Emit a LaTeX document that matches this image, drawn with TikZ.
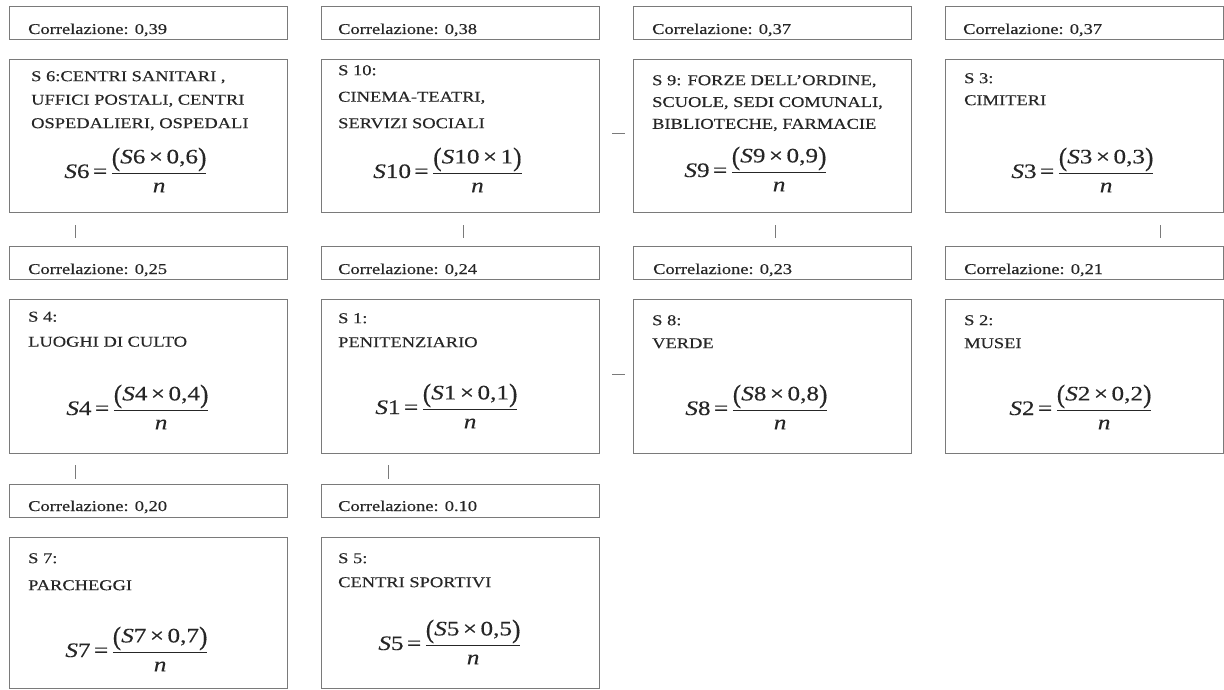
\documentclass[tikz,border=0pt]{standalone}
\usepackage{fontspec}
\usepackage{graphicx}
\setmainfont{Liberation Serif}[FakeStretch=1.23,FakeBold=0.35]
\definecolor{boxgray}{HTML}{7A7A7A}
\definecolor{txtgray}{HTML}{262626}
\newcommand\bigpar[1]{\raisebox{-0.12em}{\scalebox{1}[1.28]{#1}}}
\newcommand\frml[2]{\textit{S}#1\,=\,$\displaystyle\frac{\mbox{\bigpar{(}\textit{S}#1\,×\,#2\bigpar{)}}}{\mbox{\textit{n}}}$}
\begin{document}
\begin{tikzpicture}[x=1pt,y=-1pt,
 box/.style={draw=boxgray, line width=1.1pt, inner sep=0pt, anchor=north west, minimum width=278pt},
 corrbox/.style={box, minimum height=33pt},
 mainbox/.style={box, minimum height=153pt},
 corrtxt/.style={anchor=base west, inner sep=0pt, font=\fontsize{15}{16}\selectfont, text=txtgray},
 desc/.style={anchor=north west, inner sep=0pt, align=left, font=\fontsize{15}{23.5}\selectfont, text=txtgray},
 frm/.style={anchor=base, inner sep=0pt, font=\fontsize{20.5}{24}\selectfont, text=txtgray},
 tick/.style={draw=boxgray, line width=0.9pt}]
\useasboundingbox (0,0) rectangle (1224,690);
% ---------- row 1 ----------
\node[corrbox] (c6) at (9,6) {};
\node[corrbox] (c10) at (321,6) {};
\node[corrbox] (c9) at (633,6) {};
\node[corrbox] (c3) at (945,6) {};
\node[corrtxt] (k6) at (28,34) {Correlazione: 0,39};
\node[corrtxt] (k10) at (338,34) {Correlazione: 0,38};
\node[corrtxt] (k9) at (652,34) {Correlazione: 0,37};
\node[corrtxt] (k3) at (963,34) {Correlazione: 0,37};
\node[mainbox] (s6) at (9,59) {};
\node[mainbox] (s10) at (321,59) {};
\node[mainbox] (s9) at (633,59) {};
\node[mainbox] (s3) at (945,59) {};
\node[desc] (d6) at (31,71) {S 6:CENTRI SANITARI ,\\UFFICI POSTALI, CENTRI\\OSPEDALIERI, OSPEDALI};
\node[desc, font=\fontsize{15}{26.5}\selectfont] (d10) at (338,65) {S 10:\\CINEMA-TEATRI,\\SERVIZI SOCIALI};
\node[desc, font=\fontsize{15}{21.8}\selectfont] (d9) at (652,75) {S 9: FORZE DELL’ORDINE,\\SCUOLE, SEDI COMUNALI,\\BIBLIOTECHE, FARMACIE};
\node[desc, font=\fontsize{15}{22}\selectfont] (d3) at (964,73) {S 3:\\CIMITERI};
\node[frm] (f6) at (136,178) {\frml{6}{0,6}};
\node[frm] (f10) at (448,178) {\frml{10}{1}};
\node[frm] (f9) at (756,177) {\frml{9}{0,9}};
\node[frm] (f3) at (1083,178) {\frml{3}{0,3}};
% ---------- row 2 ----------
\node[corrbox] (c4) at (9,246) {};
\node[corrbox] (c1) at (321,246) {};
\node[corrbox] (c8) at (633,246) {};
\node[corrbox] (c2) at (945,246) {};
\node[corrtxt] (k4) at (28,274) {Correlazione: 0,25};
\node[corrtxt] (k1) at (338,274) {Correlazione: 0,24};
\node[corrtxt] (k8) at (653,274) {Correlazione: 0,23};
\node[corrtxt] (k2) at (964,274) {Correlazione: 0,21};
\node[mainbox, minimum height=154pt] (s4) at (9,299) {};
\node[mainbox, minimum height=154pt] (s1) at (321,299) {};
\node[mainbox, minimum height=154pt] (s8) at (633,299) {};
\node[mainbox, minimum height=154pt] (s2) at (945,299) {};
\node[desc, font=\fontsize{15}{25}\selectfont] (d4) at (28,311.5) {S 4:\\LUOGHI DI CULTO};
\node[desc, font=\fontsize{15}{24}\selectfont] (d1) at (338,313) {S 1:\\PENITENZIARIO};
\node[desc, font=\fontsize{15}{23}\selectfont] (d8) at (652,315) {S 8:\\VERDE};
\node[desc, font=\fontsize{15}{23}\selectfont] (d2) at (964,315) {S 2:\\MUSEI};
\node[frm] (f4) at (138,415) {\frml{4}{0,4}};
\node[frm] (f1) at (447,414) {\frml{1}{0,1}};
\node[frm] (f8) at (757,415) {\frml{8}{0,8}};
\node[frm] (f2) at (1081,415) {\frml{2}{0,2}};
% ---------- row 3 ----------
\node[corrbox] (c7) at (9,484) {};
\node[corrbox] (c5) at (321,484) {};
\node[corrtxt] (k7) at (28,511) {Correlazione: 0,20};
\node[corrtxt] (k5) at (338,511) {Correlazione: 0.10};
\node[mainbox, minimum height=151pt] (s7) at (9,537) {};
\node[mainbox, minimum height=151pt] (s5) at (321,537) {};
\node[desc, font=\fontsize{15}{27}\selectfont] (d7) at (28,553) {S 7:\\PARCHEGGI};
\node[desc, font=\fontsize{15}{24}\selectfont] (d5) at (338,553) {S 5:\\CENTRI SPORTIVI};
\node[frm] (f7) at (137,657) {\frml{7}{0,7}};
\node[frm] (f5) at (450,650) {\frml{5}{0,5}};
% ---------- connector fragments ----------
\coordinate (v1a) at (75,225);   \coordinate (v1b) at (75,238);
\coordinate (v2a) at (463,225);  \coordinate (v2b) at (463,238);
\coordinate (v3a) at (775,225);  \coordinate (v3b) at (775,238);
\coordinate (v4a) at (1160,225); \coordinate (v4b) at (1160,238);
\coordinate (w1a) at (75,465);   \coordinate (w1b) at (75,479);
\coordinate (w2a) at (388,465);  \coordinate (w2b) at (388,479);
\coordinate (h1a) at (612,133);  \coordinate (h1b) at (625,133);
\coordinate (h2a) at (612,374);  \coordinate (h2b) at (625,374);
\draw[tick] (v1a) -- (v1b);
\draw[tick] (v2a) -- (v2b);
\draw[tick] (v3a) -- (v3b);
\draw[tick] (v4a) -- (v4b);
\draw[tick] (w1a) -- (w1b);
\draw[tick] (w2a) -- (w2b);
\draw[tick] (h1a) -- (h1b);
\draw[tick] (h2a) -- (h2b);
\end{tikzpicture}
\end{document}
